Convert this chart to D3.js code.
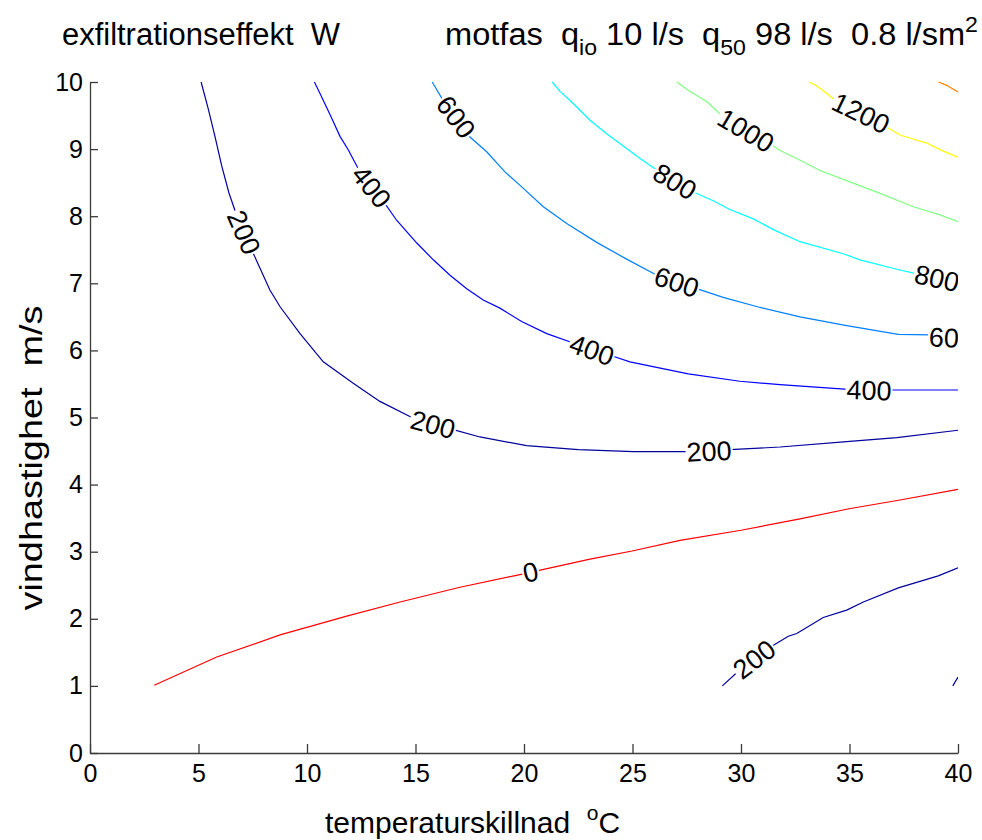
<!DOCTYPE html>
<html>
<head>
<meta charset="utf-8">
<script src="https://cdn.jsdelivr.net/npm/d3@7"></script>
<style>
  body { margin: 0; background: #fff; }
  text { font-family: "Liberation Sans", Arial, sans-serif; fill: #000; }
</style>
</head>
<body>
<div id="chart"></div>
<script>
// contour levels of the exfiltration power (W)
const levels = [0, 200, 400, 600, 800, 1000, 1200, 1400]
const xTicks = [0, 5, 10, 15, 20, 25, 30, 35, 40]
const yTicks = [0, 1, 2, 3, 4, 5, 6, 7, 8, 9, 10]

// contour pieces: [temperature diff, wind speed]
const c0 = [[2.96, 1.01], [5.84, 1.43], [8.76, 1.76], [11.83, 2.04], [14.29, 2.25], [17.05, 2.47],
    [19.97, 2.67], [23.04, 2.89], [24.98, 3.01], [27.19, 3.17], [30.0, 3.32], [32.72, 3.49],
    [34.98, 3.64], [37.33, 3.77], [40, 3.93]]
const c200a = [[5.12, 10.0], [5.45, 9.6], [5.75, 9.2], [6.07, 8.75], [6.4, 8.35], [6.76, 8.01], [7.42, 7.52], [8.29, 6.90],
    [8.76, 6.65], [9.68, 6.25], [10.75, 5.83], [12.13, 5.51], [13.36, 5.24], [14.90, 4.99],
    [15.8, 4.9], [16.74, 4.82], [17.97, 4.71], [20.12, 4.58], [22.50, 4.52], [25.04, 4.49],
    [27.57, 4.49], [29.49, 4.52], [31.80, 4.56], [34.87, 4.64], [37.18, 4.70], [40, 4.81]]
const c200b = [[29.14, 1.00], [29.95, 1.24], [30.60, 1.40], [31.21, 1.55], [32.18, 1.74], [32.57, 1.78],
    [33.79, 2.02], [34.87, 2.13], [35.64, 2.25], [37.25, 2.46], [39.09, 2.64], [40, 2.76]]
const c200c = [[39.76, 1.00], [40, 1.13]]
const c400 = [[10.34, 10.0], [10.60, 9.83], [11.14, 9.46], [11.52, 9.19], [11.90, 8.99], [12.44, 8.66],
    [12.98, 8.44], [13.52, 8.22], [14.13, 7.94], [15.06, 7.60], [15.82, 7.35], [16.59, 7.12],
    [17.36, 6.92], [18.12, 6.75], [18.89, 6.63], [19.89, 6.43], [21.05, 6.25], [22.27, 6.11],
    [23.13, 6.01], [24.04, 5.92], [24.88, 5.83], [27.57, 5.65], [29.95, 5.54], [31.80, 5.49],
    [34.93, 5.42], [35.94, 5.41], [36.87, 5.41], [40, 5.41]]
const c600 = [[15.77, 10.0], [16.21, 9.76], [16.87, 9.48], [17.51, 9.18], [18.28, 8.96], [19.12, 8.66],
    [19.82, 8.46], [20.89, 8.14], [21.97, 7.89], [23.35, 7.61], [24.73, 7.36], [26.12, 7.12],
    [27.04, 7.02], [27.96, 6.92], [29.18, 6.79], [30.88, 6.64], [32.72, 6.50], [34.87, 6.37],
    [37.25, 6.24], [38.71, 6.23], [40, 6.21]]
const c800 = [[21.30, 10.0], [21.66, 9.86], [22.27, 9.68], [23.04, 9.43], [23.81, 9.23], [24.73, 9.01],
    [25.35, 8.86], [26.12, 8.69], [26.96, 8.52], [27.80, 8.36], [28.72, 8.23], [29.49, 8.10],
    [30.57, 7.96], [31.49, 7.80], [32.72, 7.62], [34.71, 7.44], [35.48, 7.35], [37.18, 7.21],
    [38.10, 7.14], [38.99, 7.08], [39.86, 7.02], [40, 7.02]]
const c1000 = [[27.04, 10.0], [27.65, 9.86], [28.42, 9.71], [29.18, 9.48], [30.23, 9.28], [31.34, 9.08],
    [31.80, 8.98], [32.57, 8.86], [33.64, 8.68], [34.87, 8.53], [36.41, 8.34], [37.94, 8.14],
    [39.17, 8.02], [40, 7.92]]
const c1200 = [[33.13, 10.0], [33.41, 9.96], [33.75, 9.88], [34.02, 9.81], [34.33, 9.73], [35.53, 9.54],
    [36.71, 9.33], [37.33, 9.21], [37.94, 9.15], [38.56, 9.09], [39.32, 8.97], [40, 8.88]]
const c1400 = [[39.10, 10.0], [39.48, 9.95], [40, 9.85]]

// inline contour labels: [level, temperature diff, wind speed]
const labelData = [[200, 7.10, 7.76], [200, 15.81, 4.90], [200, 28.53, 4.50], [200, 30.60, 1.40],
    [400, 12.98, 8.44], [400, 23.13, 6.01], [400, 35.90, 5.41],
    [600, 16.87, 9.48], [600, 27.04, 7.02], [600, 39.70, 6.19],
    [800, 26.96, 8.52], [800, 39.03, 7.08],
    [1000, 30.23, 9.28], [1200, 35.53, 9.54], [0, 20.30, 2.70]]

const contours = [
    { level: 0, pts: c0 }, { level: 200, pts: c200a }, { level: 200, pts: c200b }, { level: 200, pts: c200c },
    { level: 400, pts: c400 }, { level: 600, pts: c600 }, { level: 800, pts: c800 },
    { level: 1000, pts: c1000 }, { level: 1200, pts: c1200 }, { level: 1400, pts: c1400 }
]

const width = 982, height = 840
const svg = d3.select("#chart").append("svg")
    .attr("width", width)
    .attr("height", height)

const x = d3.scaleLinear().domain([0, 40]).range([90, 958])
const y = d3.scaleLinear().domain([0, 10]).range([753, 82])

//colours like the matlab jet-style contour map
const color = d3.scaleOrdinal()
    .domain(levels)
    .range(["#ff0000", "#00009c", "#0000ff", "#0080ff", "#00ffff", "#80ff80", "#ffff00", "#ff8000"])

svg.append("defs").append("clipPath")
    .attr("id", "plotClip")
    .append("rect")
    .attr("x", x(0)).attr("y", y(10) - 2)
    .attr("width", x(40) - x(0)).attr("height", y(0) - y(10) + 2)

//axes, ticks pointing inward
const xAxis = d3.axisBottom(x).tickValues(xTicks).tickSizeInner(-9).tickSizeOuter(0).tickPadding(11)
const yAxis = d3.axisLeft(y).tickValues(yTicks).tickSizeInner(-8).tickSizeOuter(0).tickPadding(7)

const gx = svg.append("g").attr("transform", `translate(0,${y(0)})`).call(xAxis)
const gy = svg.append("g").attr("transform", `translate(${x(0)},0)`).call(yAxis)
for (const g of [gx, gy]) {
    g.attr("font-size", 25).attr("font-family", null)
    g.selectAll("path, line").attr("stroke", "#3a3a3a").attr("stroke-width", 1.3)
    g.selectAll("text").attr("fill", "#000")
}

//contour lines
const line = d3.line().x(d => x(d[0])).y(d => y(d[1]))
const plot = svg.append("g").attr("clip-path", "url(#plotClip)")
plot.selectAll("path.contour")
    .data(contours)
    .enter()
    .append("path")
    .attr("class", "contour")
    .attr("d", d => line(d.pts))
    .attr("fill", "none")
    .attr("stroke", d => color(d.level))
    .attr("stroke-width", 1.2)

//label angle from the nearest segment of its contour
function labelAngle(level, px, py) {
    let best = Infinity, angle = 0
    contours.filter(c => c.level === level).forEach(c => {
        for (let i = 0; i < c.pts.length - 1; i++) {
            const x1 = x(c.pts[i][0]), y1 = y(c.pts[i][1])
            const x2 = x(c.pts[i + 1][0]), y2 = y(c.pts[i + 1][1])
            const mx = (x1 + x2) / 2, my = (y1 + y2) / 2
            const dist = Math.hypot(mx - px, my - py)
            if (dist < best) {
                best = dist
                angle = Math.atan2(y2 - y1, x2 - x1) * 180 / Math.PI
            }
        }
    })
    if (angle > 90) angle -= 180
    if (angle < -90) angle += 180
    return angle
}

const labels = plot.selectAll("g.clabel")
    .data(labelData)
    .enter()
    .append("g")
    .attr("class", "clabel")
    .attr("transform", d => {
        const px = x(d[1]), py = y(d[2])
        return `translate(${px},${py}) rotate(${labelAngle(d[0], px, py)})`
    })

labels.append("text")
    .attr("text-anchor", "middle")
    .attr("dy", "0.36em")
    .attr("font-size", 27)
    .text(d => d[0])

labels.each(function () {
    const g = d3.select(this)
    const bb = g.select("text").node().getBBox()
    g.insert("rect", "text")
        .attr("x", bb.x - 1).attr("y", bb.y + 2)
        .attr("width", bb.width + 2).attr("height", bb.height - 4)
        .attr("fill", "#fff")
})

//title (non-breaking spaces keep the wide gaps)
const sp = "\u00a0"
const title = svg.append("g").attr("font-size", 31)
title.append("text").attr("x", 62).attr("y", 45)
    .attr("textLength", 278).attr("lengthAdjust", "spacingAndGlyphs")
    .text("exfiltrationseffekt" + sp + sp + "W")
const t2 = title.append("text").attr("x", 445).attr("y", 45)
    .attr("textLength", 533).attr("lengthAdjust", "spacingAndGlyphs")
t2.append("tspan").text("motfas" + sp + sp + "q")
t2.append("tspan").attr("font-size", 22).attr("dy", 10).text("io")
t2.append("tspan").attr("dy", -10).text(sp + "10 l/s" + sp + sp + "q")
t2.append("tspan").attr("font-size", 22).attr("dy", 10).text("50")
t2.append("tspan").attr("dy", -10).text(sp + "98 l/s" + sp + sp + "0.8 l/sm")
t2.append("tspan").attr("font-size", 22).attr("dy", -13).text("2")

//axis labels
const xl = svg.append("text")
    .attr("x", 325).attr("y", 833)
    .attr("font-size", 30)
xl.append("tspan").text("temperaturskillnad" + sp + sp)
xl.append("tspan").attr("font-size", 21).attr("dy", -13).text("o")
xl.append("tspan").attr("dy", 13).text("C")

svg.append("text")
    .attr("transform", "translate(42,458) rotate(-90)")
    .attr("text-anchor", "middle")
    .attr("font-size", 31)
    .attr("textLength", 305).attr("lengthAdjust", "spacingAndGlyphs")
    .text("vindhastighet" + sp + sp + "m/s")
</script>
</body>
</html>
